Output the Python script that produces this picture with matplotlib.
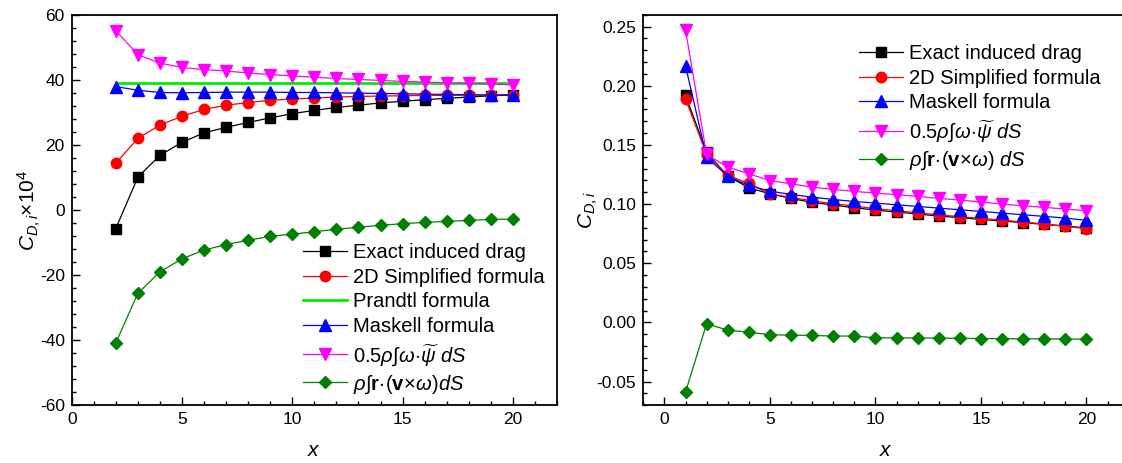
import numpy as np
import matplotlib
matplotlib.use("Agg")
import matplotlib.pyplot as plt
from matplotlib.ticker import MultipleLocator

plt.rcParams['font.family'] = ['Liberation Sans', 'DejaVu Sans']
plt.rcParams['mathtext.fontset'] = 'custom'
plt.rcParams['mathtext.rm'] = 'Liberation Sans'
plt.rcParams['mathtext.it'] = 'Liberation Sans:italic'
plt.rcParams['mathtext.bf'] = 'Liberation Sans:bold'
plt.rcParams['axes.unicode_minus'] = False

# ---------------- left panel data (C_D,i x 10^4) ----------------
x_left = [2, 3, 4, 5, 6, 7, 8, 9, 10, 11, 12, 13, 14, 15, 16, 17, 18, 19, 20]
exact_left = [-5.7, 10.1, 16.8, 20.8, 23.7, 25.4, 26.9, 28.3, 29.6, 30.6,
              31.5, 32.2, 32.9, 33.4, 33.9, 34.3, 34.7, 35.1, 35.4]
simp2d_left = [14.4, 22.0, 26.1, 28.8, 30.9, 32.2, 33.0, 33.7, 34.1, 34.4,
               34.7, 34.9, 35.0, 35.1, 35.2, 35.2, 35.3, 35.3, 35.4]
prandtl_x = [2, 20]
prandtl_left = [38.9, 38.9]
maskell_left = [37.9, 36.8, 36.1, 36.0, 36.1, 36.2, 36.2, 36.2, 36.1, 36.1,
                36.0, 35.9, 35.8, 35.7, 35.6, 35.5, 35.4, 35.3, 35.3]
psi_left = [55.1, 47.7, 45.1, 43.8, 43.1, 42.7, 42.1, 41.6, 41.2, 40.8,
            40.4, 40.1, 39.8, 39.5, 39.3, 39.1, 38.9, 38.7, 38.5]
rvw_left = [-40.8, -25.6, -19.0, -15.0, -12.3, -10.6, -9.3, -8.1, -7.4, -6.7,
            -5.9, -5.3, -4.7, -4.2, -3.8, -3.5, -3.2, -2.9, -2.8]

# ---------------- right panel data (C_D,i) ----------------
x_right = list(range(1, 21))
exact_right = [0.1918, 0.1438, 0.1236, 0.1138, 0.1087, 0.1048, 0.1014, 0.0992,
               0.0969, 0.0949, 0.0933, 0.0916, 0.0899, 0.0885, 0.0871, 0.0857,
               0.0843, 0.0829, 0.0815, 0.0798]
simp2d_right = [0.1888, 0.1419, 0.1244, 0.1174, 0.1087, 0.1056, 0.1028, 0.1003,
                0.0983, 0.0961, 0.0944, 0.0927, 0.0910, 0.0893, 0.0879, 0.0865,
                0.0848, 0.0832, 0.0812, 0.0792]
maskell_right = [0.2169, 0.1396, 0.1236, 0.1157, 0.1110, 0.1081, 0.1059, 0.1039,
                 0.1022, 0.1008, 0.0994, 0.0980, 0.0966, 0.0952, 0.0938, 0.0924,
                 0.0910, 0.0896, 0.0882, 0.0862]
psi_right = [0.2472, 0.1419, 0.1312, 0.1256, 0.1199, 0.1171, 0.1143, 0.1124,
             0.1107, 0.1093, 0.1079, 0.1065, 0.1048, 0.1034, 0.1017, 0.1000,
             0.0986, 0.0972, 0.0958, 0.0944]
rvw_right = [-0.0589, -0.0011, -0.0065, -0.0082, -0.0104, -0.0107, -0.0110,
             -0.0115, -0.0115, -0.0130, -0.0130, -0.0132, -0.0132, -0.0135,
             -0.0136, -0.0137, -0.0138, -0.0139, -0.0140, -0.0141]

lab_exact = 'Exact induced drag'
lab_2d = '2D Simplified formula'
lab_prandtl = 'Prandtl formula'
lab_maskell = 'Maskell formula'
lab_psi = r'$0.5\rho$∫$\omega\!\cdot\!\widetilde{\psi}\ dS$'
lab_rvw_left = r'$\rho$∫$\mathbf{r}\!\cdot\!(\mathbf{v}\!\times\!\omega)dS$'
lab_rvw_right = r'$\rho$∫$\mathbf{r}\!\cdot\!(\mathbf{v}\!\times\!\omega)\ dS$'

fig = plt.figure(figsize=(11.22, 4.63), dpi=100)
W, H = 1122, 463
axL = fig.add_axes([71.7 / W, (H - 405.3) / H, 485.3 / W, 390.6 / H])
axR = fig.add_axes([643.3 / W, (H - 405.3) / H, 485.3 / W, 390.6 / H])

lw = 0.9
axL.plot(x_left, exact_left, '-s', color='black', lw=lw, ms=6.5, label=lab_exact)
axL.plot(x_left, simp2d_left, '-o', color='red', lw=lw, ms=7.5, label=lab_2d)
axL.plot(prandtl_x, prandtl_left, '-', color='#00ee00', lw=2.0, label=lab_prandtl)
axL.plot(x_left, maskell_left, '-^', color='blue', lw=lw, ms=8, label=lab_maskell)
axL.plot(x_left, psi_left, '-v', color='magenta', lw=lw, ms=8, label=lab_psi)
axL.plot(x_left, rvw_left, '-D', color='green', lw=lw, ms=6.5, label=lab_rvw_left)

axR.plot(x_right, exact_right, '-s', color='black', lw=lw, ms=6.5, label=lab_exact)
axR.plot(x_right, simp2d_right, '-o', color='red', lw=lw, ms=7.5, label=lab_2d)
axR.plot(x_right, maskell_right, '-^', color='blue', lw=lw, ms=8, label=lab_maskell)
axR.plot(x_right, psi_right, '-v', color='magenta', lw=lw, ms=8, label=lab_psi)
axR.plot(x_right, rvw_right, '-D', color='green', lw=lw, ms=6.5, label=lab_rvw_right)

axL.set_xlim(0, 22)
axL.set_ylim(-60, 60)
axL.xaxis.set_major_locator(MultipleLocator(5))
axL.xaxis.set_minor_locator(MultipleLocator(1))
axL.yaxis.set_major_locator(MultipleLocator(20))
axL.yaxis.set_minor_locator(MultipleLocator(4))

axR.set_xlim(-1, 22)
axR.set_ylim(-0.07, 0.26)
axR.xaxis.set_major_locator(MultipleLocator(5))
axR.xaxis.set_minor_locator(MultipleLocator(1))
axR.yaxis.set_major_locator(MultipleLocator(0.05))
axR.yaxis.set_minor_locator(MultipleLocator(0.01))
axR.yaxis.set_major_formatter(matplotlib.ticker.FormatStrFormatter('%.2f'))

for ax in (axL, axR):
    for s in ax.spines.values():
        s.set_linewidth(1.3)
    ax.tick_params(which='both', direction='in', labelsize=12.5, width=1.0,
                   top=False, right=False)
    ax.tick_params(which='major', length=5.5, pad=5)
    ax.tick_params(which='minor', length=2.8)
    ax.set_xlabel(r'$x$', fontsize=15, labelpad=10)

axL.set_ylabel(r'$C_{D,i}\mathit{\times10^{4}}$', fontsize=15, labelpad=-2)
axR.set_ylabel(r'$C_{D,i}$', fontsize=15, labelpad=-2)

legkw = dict(frameon=False, fontsize=14.5, handlelength=2.2, handletextpad=0.3,
             labelspacing=0.28, borderaxespad=0, borderpad=0)
axL.legend(loc='upper left', bbox_to_anchor=((303 - 71.7) / 485.3, (405.3 - 243) / 390.6), **legkw)
axR.legend(loc='upper left', bbox_to_anchor=((859 - 643.3) / 485.3, (405.3 - 44) / 390.6), **legkw)

fig.savefig('out.png', dpi=100)
